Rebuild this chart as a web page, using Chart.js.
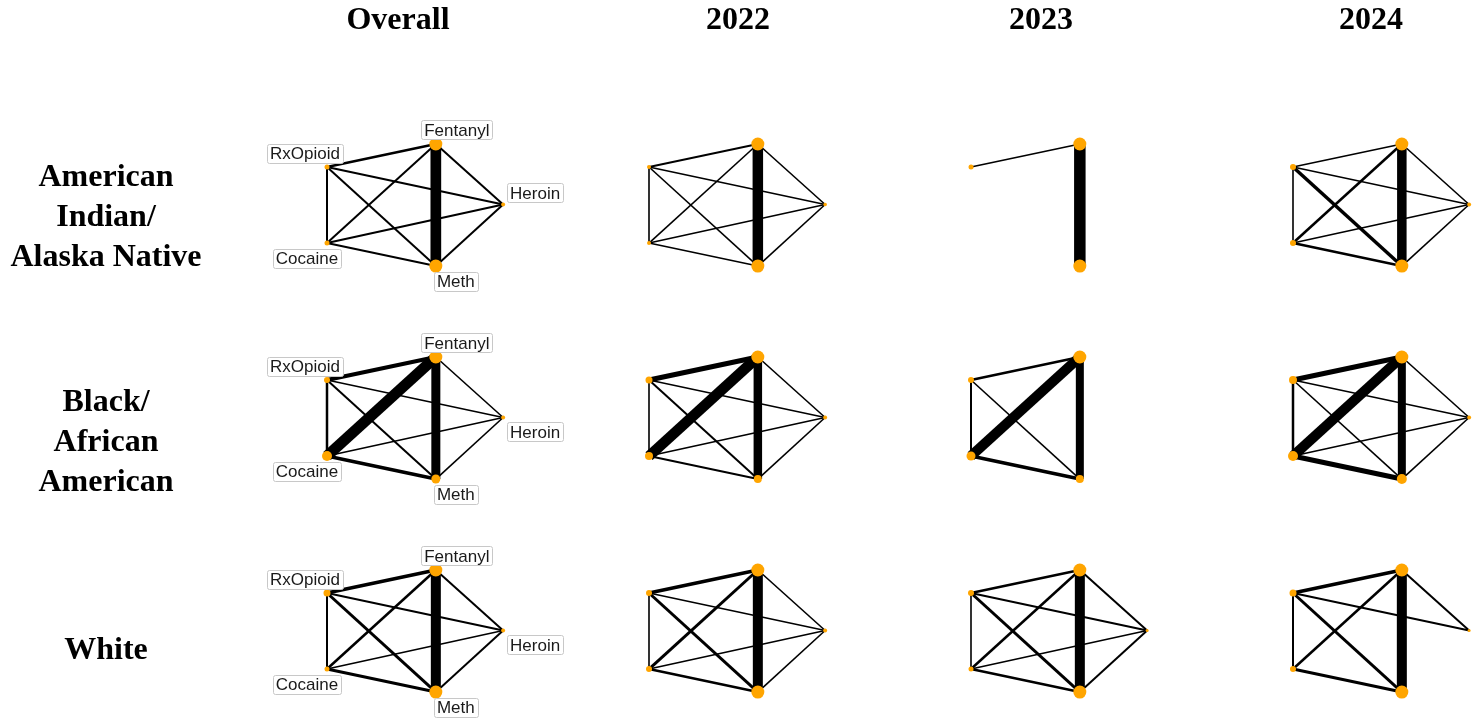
<!DOCTYPE html>
<html>
<head>
<meta charset="utf-8">
<script src="https://cdn.jsdelivr.net/npm/chart.js@4.4.1/dist/chart.umd.min.js"></script>
<style>
  html, body { margin: 0; padding: 0; background: #fff; }
  #wrap { position: relative; width: 1478px; height: 719px; overflow: hidden; }
  #wrap canvas { position: absolute; left: 0; top: 0; }
  .ttl {
    position: absolute;
    font: bold 32px "Liberation Serif", "Times New Roman", serif;
    color: #000;
    transform: translate(-50%, -50%);
    white-space: nowrap;
    text-align: center;
    line-height: 40px;
  }
</style>
</head>
<body>
<div id="wrap"><canvas id="net" width="1478" height="719"></canvas></div>
<script>
// drugs (nodes) and the ten pairs between them
const drugs = ["RxOpioid", "Fentanyl", "Heroin", "Cocaine", "Meth"];
const edgePairs = [[0, 1], [0, 2], [0, 3], [0, 4], [1, 2], [1, 3], [1, 4], [2, 3], [2, 4], [3, 4]];

const periods = ["Overall", "2022", "2023", "2024"];
const groups = ["American Indian/Alaska Native", "Black/African American", "White"];
const groupLines = [["American", "Indian/", "Alaska Native"], ["Black/", "African", "American"], ["White"]];

// co-use edge strength, order = edgePairs; one row per period (Overall, 2022, 2023, 2024)
const aianEdges = [
  [2.5, 2, 2, 2, 2, 2, 10.7, 2, 2, 2],
  [1.8, 1.6, 1.6, 1.6, 1.6, 1.6, 10.5, 1.6, 1.6, 1.6],
  [1.7, 0, 0, 0, 0, 0, 11.5, 0, 0, 0],
  [1.6, 1.6, 1.6, 3.5, 1.6, 2.5, 9.5, 1.6, 1.6, 2.5],
];
const blackEdges = [
  [4, 1.6, 2.5, 2, 1.6, 11, 9, 1.6, 1.6, 3.5],
  [5, 1.6, 1.6, 2, 1.6, 10.5, 8.5, 1.6, 1.6, 2],
  [2.5, 0, 2, 1.6, 0, 10, 8, 0, 0, 3.5],
  [5, 1.6, 2.5, 1.6, 1.6, 10, 8, 1.6, 1.6, 5],
];
const whiteEdges = [
  [3.5, 2, 2, 3, 2, 2.5, 10, 1.6, 2, 3],
  [3.5, 1.6, 1.6, 3, 1.6, 3, 10, 1.6, 1.6, 2.5],
  [2.5, 2, 1.6, 3, 2, 2.5, 10, 1.6, 2, 2.5],
  [3.5, 2, 2, 3, 2, 2.5, 10, 0, 0, 3],
];

// node prevalence size, order = drugs; 0 = drug absent
const aianNodes = [
  [2.5, 6.5, 2, 2.5, 6.5],
  [2, 6.5, 1.8, 2, 6.5],
  [2.5, 6.5, 0, 0, 6.5],
  [3, 6.5, 2, 3, 6.5],
];
const blackNodes = [
  [3, 6.5, 2, 5, 4.5],
  [3.5, 6.5, 2, 4, 4],
  [3, 6.5, 0, 4.5, 4],
  [4, 6.5, 2, 5, 5],
];
const whiteNodes = [
  [3.5, 6.5, 2, 2.5, 6.5],
  [3, 6.5, 2, 3, 6.5],
  [3, 6.5, 1.5, 2.5, 6.5],
  [3.5, 6.5, 1.5, 3, 6.5],
];

const edgeSets = [aianEdges, blackEdges, whiteEdges];
const nodeSets = [aianNodes, blackNodes, whiteNodes];

// node layout inside one panel (panel units: x per column, y per row)
const layoutX = [0, 0.338, 0.547, 0, 0.338];
const layoutY = [0, -0.108, 0.176, 0.357, 0.465];

const W = 1478, H = 719;
const colPitch = 322, colStart = 327;
const rowPitch = 213, rowStart = 167;
const xMin = -colStart / colPitch, xMax = xMin + W / colPitch;
const yMin = -rowStart / rowPitch, yMax = yMin + H / rowPitch;

function pt(r, c, n) {
  return { x: c + layoutX[n], y: r + layoutY[n] };
}

const datasets = [];
groups.forEach((g, r) => {
  periods.forEach((p, c) => {
    const w = edgeSets[r][c];
    edgePairs.forEach(([a, b], k) => {
      if (!w[k]) return;
      datasets.push({
        type: "line",
        label: `${g} ${p} ${drugs[a]}-${drugs[b]}`,
        data: [pt(r, c, a), pt(r, c, b)],
        borderColor: "#000",
        borderWidth: w[k],
        borderCapStyle: "butt",
        pointRadius: 0,
        tension: 0,
        fill: false,
        clip: false,
        order: 2,
      });
    });
  });
});

const nodePts = [];
const nodeRadius = [];
groups.forEach((g, r) => {
  periods.forEach((p, c) => {
    nodeSets[r][c].forEach((s, n) => {
      if (!s) return;
      nodePts.push(pt(r, c, n));
      nodeRadius.push(s);
    });
  });
});
datasets.push({
  type: "scatter",
  label: "nodes",
  data: nodePts,
  pointRadius: nodeRadius,
  pointHoverRadius: nodeRadius,
  backgroundColor: "#FFA500",
  borderWidth: 0,
  clip: false,
  order: 0,
});

// label box offsets (px) from node centre, overall column only
const labelOffsets = [[-22, -13.5], [21, -14], [32, -11.5], [-20, 15], [20, 15]];
const heroinBelow = [false, true, true];

const nodeLabels = {
  id: "nodeLabels",
  afterDatasetsDraw(chart) {
    const { ctx, scales } = chart;
    ctx.save();
    ctx.font = '17px "Liberation Sans", Arial, sans-serif';
    ctx.textAlign = "center";
    ctx.textBaseline = "middle";
    groups.forEach((g, r) => {
      drugs.forEach((d, n) => {
        const p = pt(r, 0, n);
        const px = scales.x.getPixelForValue(p.x);
        const py = scales.y.getPixelForValue(p.y);
        let [dx, dy] = labelOffsets[n];
        if (n === 2 && heroinBelow[r]) dy = 14.5;
        const tw = ctx.measureText(d).width;
        const bw = tw + 6, bh = 19;
        const cx = px + dx, cy = py + dy;
        ctx.fillStyle = "#fff";
        ctx.strokeStyle = "#c8c8c8";
        ctx.lineWidth = 1;
        ctx.beginPath();
        ctx.roundRect(Math.round(cx - bw / 2) + 0.5, Math.round(cy - bh / 2) + 0.5, Math.round(bw), bh, 2);
        ctx.fill();
        ctx.stroke();
        ctx.fillStyle = "#1a1a1a";
        ctx.fillText(d, cx, cy + 1);
      });
    });
    ctx.restore();
  },
};

new Chart(document.getElementById("net"), {
  type: "scatter",
  data: { datasets },
  options: {
    responsive: false,
    animation: false,
    events: [],
    layout: { padding: 0, autoPadding: false },
    plugins: { legend: { display: false }, tooltip: { enabled: false } },
    scales: {
      x: { type: "linear", min: xMin, max: xMax, display: false },
      y: { type: "linear", min: yMin, max: yMax, reverse: true, display: false },
    },
  },
  plugins: [nodeLabels],
});

// column titles and row labels
const wrap = document.getElementById("wrap");
const titleX = [398, 738, 1041, 1371];
periods.forEach((p, c) => {
  const d = document.createElement("div");
  d.className = "ttl";
  d.textContent = p;
  d.style.left = titleX[c] + "px";
  d.style.top = "18px";
  wrap.appendChild(d);
});
const rowLabelY = [215, 440, 648];
groupLines.forEach((lines, r) => {
  const d = document.createElement("div");
  d.className = "ttl";
  d.innerHTML = lines.join("<br>");
  d.style.left = "106px";
  d.style.top = rowLabelY[r] + "px";
  wrap.appendChild(d);
});
</script>
</body>
</html>
